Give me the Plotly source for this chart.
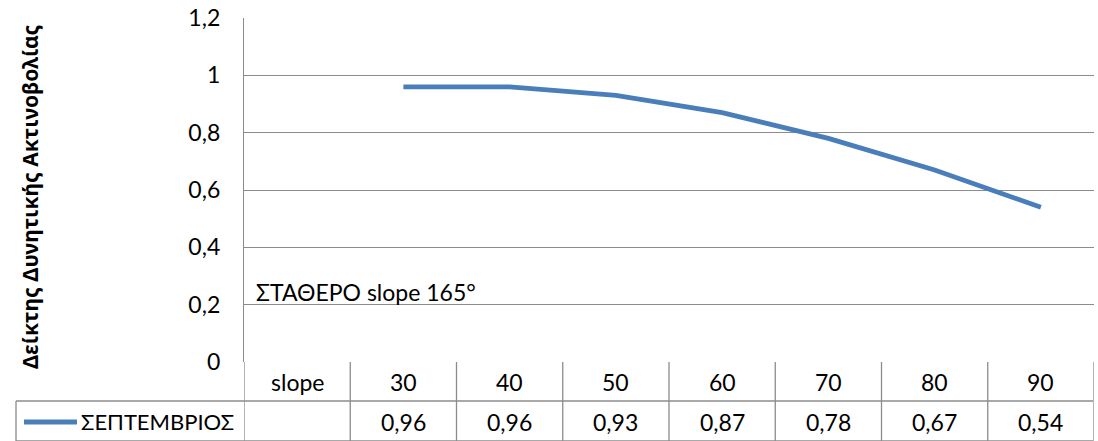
import plotly.graph_objects as go

# Categories of the x axis (first column is the row header of the data table)
categories = ["slope", "30", "40", "50", "60", "70", "80", "90"]
# Potential irradiance index for September (no value under the header column)
september = [None, 0.96, 0.96, 0.93, 0.87, 0.78, 0.67, 0.54]
series_name = "ΣΕΠΤΕΜΒΡΙΟΣ"
y_ticks = [0, 0.2, 0.4, 0.6, 0.8, 1.0, 1.2]
y_title = "Δείκτης Δυνητικής Ακτινοβολίας"
note_text = "ΣΤΑΘΕΡΟ slope 165°"

W, H = 1098, 441
ML, MR, MT, MB = 244, 4, 18, 79
PLOT_H = H - MT - MB
LINE_COLOR = "#4a7ebb"
GRID = "#8c8c8c"
FONT = "Lato, 'Noto Sans', sans-serif"
TITLE_FONT = "'Noto Sans', 'DejaVu Sans', sans-serif"
FS = 23

def py(pix):
    """Convert a pixel row (from top) into paper y coordinates."""
    return (H - MB - pix) / PLOT_H

def px(pix):
    """Convert a pixel column into paper x coordinates."""
    return (pix - ML) / (W - ML - MR)

xs = list(range(len(categories)))
fig = go.Figure()
fig.add_trace(go.Scatter(
    x=xs, y=september, mode="lines", name=series_name,
    line=dict(color=LINE_COLOR, width=4.8), connectgaps=False,
    showlegend=False,
))

shapes = []
annotations = []
row1_top, row2_top, row_bottom = H - MB, 401, 441
n = len(categories)

# Table grid: vertical column separators
for i in range(n + 1):
    shapes.append(dict(type="line", xref="x", yref="paper",
                       x0=i - 0.5, x1=i - 0.5, y0=py(row1_top), y1=py(row_bottom),
                       line=dict(color=GRID, width=1.3)))
# Horizontal separators
shapes.append(dict(type="line", xref="paper", yref="paper",
                   x0=px(16), x1=px(1093), y0=py(row2_top), y1=py(row2_top),
                   line=dict(color=GRID, width=1.3)))
shapes.append(dict(type="line", xref="paper", yref="paper",
                   x0=px(16), x1=px(1093), y0=py(row_bottom), y1=py(row_bottom),
                   line=dict(color=GRID, width=1.3)))
# Legend cell left border
shapes.append(dict(type="line", xref="paper", yref="paper",
                   x0=px(16), x1=px(16), y0=py(row2_top), y1=py(row_bottom),
                   line=dict(color=GRID, width=1.3)))
# Legend key line
shapes.append(dict(type="line", xref="paper", yref="paper",
                   x0=px(24), x1=px(77), y0=py(422), y1=py(422),
                   line=dict(color=LINE_COLOR, width=4.8)))

# Category row and value row of the data table
for i, (cat, val) in enumerate(zip(categories, september)):
    annotations.append(dict(x=i, xref="x", y=py((row1_top + row2_top) / 2), yref="paper",
                            text=cat, showarrow=False, xanchor="center", yanchor="middle",
                            font=dict(family=FONT, size=FS, color="#000")))
    if val is not None:
        annotations.append(dict(x=i, xref="x", y=py((row2_top + row_bottom) / 2 + 1), yref="paper",
                                text=f"{val:.2f}".replace(".", ","), showarrow=False,
                                xanchor="center", yanchor="middle",
                                font=dict(family=FONT, size=FS, color="#000")))

annotations.append(dict(x=px(79), xref="paper", y=py(421), yref="paper",
                        text=series_name, showarrow=False, xanchor="left", yanchor="middle",
                        font=dict(family=FONT, size=FS - 1, color="#000")))
annotations.append(dict(x=px(254), xref="paper", y=py(292), yref="paper",
                        text=note_text, showarrow=False, xanchor="left", yanchor="middle",
                        font=dict(family=FONT, size=FS, color="#000")))
annotations.append(dict(x=px(30), xref="paper", y=py(197), yref="paper",
                        text=f"<b>{y_title}</b>", textangle=-90, showarrow=False,
                        xanchor="center", yanchor="middle",
                        font=dict(family=TITLE_FONT, size=21, color="#000", weight="bold")))

fig.update_layout(
    width=W, height=H,
    margin=dict(l=ML, r=MR, t=MT, b=MB),
    paper_bgcolor="white", plot_bgcolor="white",
    separators=",.",
    shapes=shapes, annotations=annotations,
    font=dict(family=FONT, size=FS, color="#000"),
)
fig.update_xaxes(range=[-0.5, n - 0.5], showticklabels=False, showgrid=False,
                 zeroline=False, showline=False, ticks="")
fig.update_yaxes(range=[0, 1.2], tickvals=y_ticks, tickformat="~g",
                 showgrid=True, gridcolor=GRID, gridwidth=1.3,
                 zeroline=False, showline=True, linecolor=GRID, linewidth=1.3,
                 ticks="", ticklabelstandoff=18,
                 tickfont=dict(family=FONT, size=FS, color="#000"))

fig.write_html("out.html")
